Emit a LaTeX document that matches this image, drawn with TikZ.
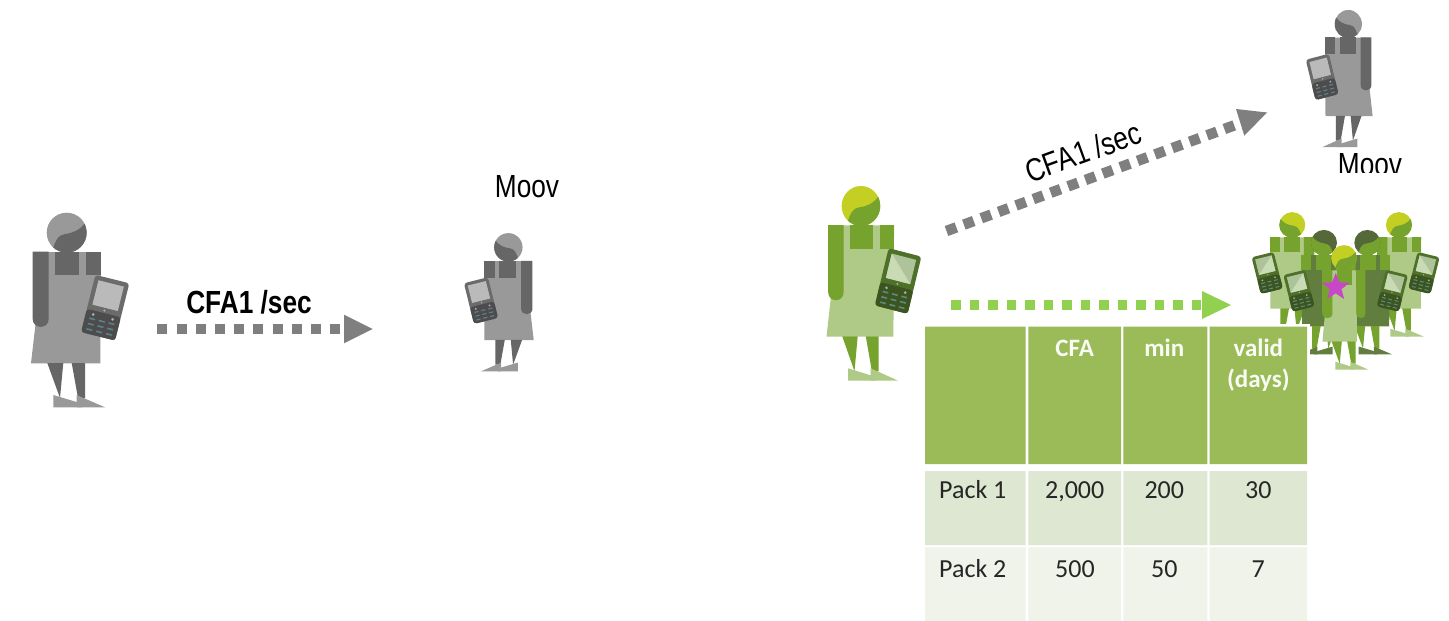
\documentclass[tikz,border=0pt]{standalone}
\usepackage{fontspec}
\setmainfont{Liberation Sans}
\newfontfamily\calib{Carlito}
\usetikzlibrary{shapes.geometric}
\newcommand{\figlower}[2]{%
 \fill[#1] (47.3,363) -- (63.3,363) -- (60,398) -- cycle;
 \fill[#1] (71.7,363) -- (85,363) -- (85,398) -- (78,398) -- cycle;
 \fill[#2] (53.3,395) -- (53.3,407.3) -- (82,407.3) -- (80,403) -- cycle;
 \fill[#2] (76.7,395) -- (76.7,407.3) -- (105,407.3) -- cycle;
}
\newcommand{\fighead}[2]{%
 \fill[#2] (66.7,232.7) circle (20);
 \begin{scope}
  \clip (66.7,232.7) circle (20);
  \fill[#1] (53,255) -- (53,248) .. controls (56,240) and (58,235) .. (65,234) .. controls (73,233) and (80,230) .. (85,223) -- (95,255) -- cycle;
 \end{scope}
 \fill[#1] (55.3,251.7) rectangle (79.3,275.3);
}
\newcommand{\figperson}[9]{%
% #1 tx, #2 ty, #3 xscale, #4 yscale, #5 main #6 dress #7 hair #8 phone body #9 screen
\begin{scope}[shift={(#1,#2)},xscale=#3,yscale=#4]
 \fill[#6] (48,252) -- (101,252) -- (100.3,363.3) -- (31,363.3) -- (36,320) -- (36,252) -- cycle;
 \figlower{#5}{#6}
 \fighead{#5}{#7}
 \fill[#5] (32.7,251.7) -- (48.7,251.7) -- (48.7,319) .. controls (48.7,329.5) and (32.7,329.5) .. (32.7,319) -- cycle;
 \fill[#5] (86,251.7) rectangle (101.3,275.3);
 \begin{scope}[shift={(105.2,307.7)},rotate=-14]
  \fill[#8,rounded corners=3] (-17.5,-29.5) rectangle (17.5,29.5);
  \fill[scra] (-13,-25) rectangle (13,0);
  \fill[scrb] (-13,-25) -- (-13,0) -- (13,0) -- cycle;
  \fill[white,opacity=.5] (0,3) circle (1.1);
  \fill[keypad,rounded corners=3] (-17.5,5.5) -- (17.5,5.5) -- (17.5,29.5) -- (-17.5,29.5) -- cycle;
  \foreach \a in {-10,10} \fill[white,opacity=.55] (\a,9.5) circle (1.5);
  \foreach \a in {-10,0,10}\foreach \b in {14,19.5,25}
   \fill[keyc] (\a-3,\b-.8) rectangle (\a+3,\b+.8);
 \end{scope}
\end{scope}}
\begin{document}
\begin{tikzpicture}[x=1pt,y=-1pt,
 dashgrey/.style={line width=10pt,draw=grey,dash pattern=on 10pt off 9.2pt},
 dashdiag/.style={line width=10.5pt,draw=grey,dash pattern=on 10.5pt off 8pt},
 dashgreen/.style={line width=9.5pt,draw=lightgreen,dash pattern=on 9.5pt off 9pt},
 labeltext/.style={inner sep=0pt,font=\fontsize{32}{32}\selectfont},
 celltext/.style={inner sep=0pt,anchor=base,font=\calib\fontsize{26}{26}\selectfont,text=txt},
 headtext/.style={inner sep=0pt,anchor=base,align=center,font=\calib\bfseries\fontsize{25}{31}\selectfont,text=white!94!hdr},
]
\definecolor{grey}{HTML}{7F7F7F}
\definecolor{gmain}{HTML}{666666}
\definecolor{gdress}{HTML}{999999}
\definecolor{gphone}{HTML}{6B6B6B}
\definecolor{gnmain}{HTML}{76A22E}
\definecolor{gndress}{HTML}{AFC986}
\definecolor{gnhair}{HTML}{C3CF22}
\definecolor{gnphone}{HTML}{4F7028}
\definecolor{dkdress}{HTML}{627E3F}
\definecolor{dkhair}{HTML}{54683A}
\definecolor{lightgreen}{HTML}{92D050}
\definecolor{hdr}{HTML}{9BBB59}
\definecolor{rowa}{HTML}{DEE7D1}
\definecolor{rowb}{HTML}{EFF3EA}
\definecolor{txt}{HTML}{262626}
\definecolor{starc}{HTML}{C846C8}
\useasboundingbox (0,0) rectangle (1449,621);
\fill[white] (0,0) rectangle (1449,621);
% grey figures
\colorlet{scra}{black!27}\colorlet{scrb}{black!27}\colorlet{keypad}{black!70}\definecolor{keyc}{HTML}{5F7F8A}
\figperson{0}{0}{1}{1}{gmain}{gdress}{gdress}{gphone}{scra}
\figperson{555.7}{82.1}{-.71}{.71}{gmain}{gdress}{gdress}{gphone}{scra}
\figperson{1393.7}{-140}{-.68}{.705}{gmain}{gdress}{gdress}{gphone}{scra}
% green figure
\definecolor{scra}{HTML}{AFC39A}\definecolor{scrb}{HTML}{C9DBB4}\definecolor{keypad}{HTML}{3C5520}\definecolor{keyc}{HTML}{5F8A80}
\figperson{796.6}{-26.7}{.965}{1}{gnmain}{gndress}{gnhair}{gnphone}{scra}
% crowd
\figperson{1335.6}{76}{-.65}{.64}{gnmain}{gndress}{gnhair}{gnphone}{scra}
\figperson{1355.6}{76}{.65}{.64}{gnmain}{gndress}{gnhair}{gnphone}{scra}
\figperson{1367.3}{93.8}{-.65}{.64}{gnmain}{dkdress}{dkhair}{gnphone}{scra}
\figperson{1324}{93.8}{.65}{.64}{gnmain}{dkdress}{dkhair}{gnphone}{scra}
\begin{scope}[shift={(1301.3,109)},xscale=.64,yscale=.64]
 \fill[gndress] (48,252) -- (86,252) -- (87,363.3) -- (33,363.3) -- (37,320) -- cycle;
 \figlower{gnmain}{gndress}
 \fighead{gnmain}{gnhair}
 \fill[gnmain] (32.7,251.7) -- (48.7,251.7) -- (48.7,319) .. controls (48.7,329.5) and (32.7,329.5) .. (32.7,319) -- cycle;
 \fill[gnmain] (86,251.7) -- (100,251.7) -- (100,319) .. controls (100,329.5) and (86,329.5) .. (86,319) -- cycle;
\end{scope}
\node[star,star points=5,star point ratio=2.4,fill=starc,minimum size=29pt,inner sep=0pt] (st) at (1335.7,287.3) {};
% arrows
\coordinate (a1s) at (157.3,329); \coordinate (a1e) at (344,329); \coordinate (a1t) at (372.7,329);
\draw[dashgrey] (a1s) -- (a1e);
\fill[grey] (344,314.7) -- (a1t) -- (344,343.3) -- cycle;
\coordinate (a2s) at (946.5,231); \coordinate (a2e) at (1238,124); \coordinate (a2t) at (1267,112.5);
\draw[dashdiag] (a2s) -- (a2e);
\fill[grey] (1236,109) -- (a2t) -- (1244.3,135.7) -- cycle;
\coordinate (a3s) at (951,305); \coordinate (a3e) at (1202,305); \coordinate (a3t) at (1231,305);
\draw[dashgreen] (a3s) -- (a3e);
\fill[lightgreen] (1202,291) -- (a3t) -- (1202,319) -- cycle;
% labels
\node[labeltext,font=\bfseries\fontsize{32}{32}\selectfont] (l1) at (249,302) {\scalebox{.82}[1]{CFA1 /sec}};
\node[labeltext,rotate=20] (l2) at (1083,152) {\scalebox{.82}[1]{CFA1 /sec}};
\node[labeltext] (m1) at (527,187) {\scalebox{.82}[1]{Moov}};
\begin{scope}
 \clip (1300,140) rectangle (1449,172);
 \node[labeltext] (m2) at (1370,165) {\scalebox{.82}[1]{Moov}};
\end{scope}
% table
\fill[white] (922,323.5) rectangle (1310,621);
\fill[hdr] (925,326.7) rectangle (1025.7,464) (1028.3,326.7) rectangle (1121,464) (1123.3,326.7) rectangle (1207.3,464) (1209.7,326.7) rectangle (1307,464);
\fill[rowa] (925,471) rectangle (1025.7,545) (1028.3,471) rectangle (1121,545) (1123.3,471) rectangle (1207.3,545) (1209.7,471) rectangle (1307,545);
\fill[rowb] (925,547.3) rectangle (1025.7,621) (1028.3,547.3) rectangle (1121,621) (1123.3,547.3) rectangle (1207.3,621) (1209.7,547.3) rectangle (1307,621);
\node[headtext] (h1) at (1074.7,356.7) {CFA};
\node[headtext] (h2) at (1164.3,356.7) {min};
\node[headtext,anchor=north] (h3) at (1258.3,339) {valid\\(days)};
\node[celltext] (c11) at (972.8,498.3) {Pack 1};
\node[celltext] (c12) at (1074.7,498.3) {2,000};
\node[celltext] (c13) at (1164.3,498.3) {200};
\node[celltext] (c14) at (1258.3,498.3) {30};
\node[celltext] (c21) at (972.8,577.7) {Pack 2};
\node[celltext] (c22) at (1075,577.7) {500};
\node[celltext] (c23) at (1164.3,577.7) {50};
\node[celltext] (c24) at (1258.3,577.7) {7};
\end{tikzpicture}
\end{document}
